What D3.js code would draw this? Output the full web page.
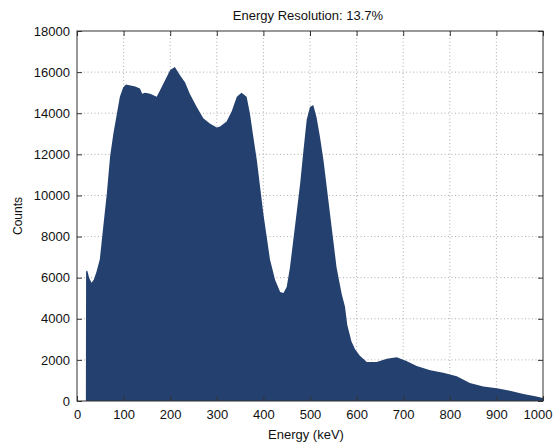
<!DOCTYPE html>
<html>
<head>
<meta charset="utf-8">
<script src="https://cdn.jsdelivr.net/npm/d3@7"></script>
<style>
  body { margin: 0; background: #fff; }
  svg text { font-family: "Liberation Sans", Arial, sans-serif; fill: #111; }
</style>
</head>
<body>
<div id="chart"></div>
<script>
// spectrum: energy (keV) and counts
const energy = [0, 19, 19.5, 22, 26, 31, 36, 42, 49, 56, 64, 71, 78, 85, 92, 99, 105, 115, 125, 135, 140, 146, 157, 171, 178, 189, 200, 210, 221, 232, 242, 257, 271, 285, 300, 307, 321, 332, 343, 353, 364, 371, 378, 386, 393, 400, 407, 414, 425, 436, 443, 450, 457, 464, 471, 479, 486, 493, 500, 507, 514, 521, 529, 536, 543, 550, 557, 568, 575, 580, 589, 597, 607, 622, 643, 665, 686, 707, 729, 758, 786, 815, 843, 872, 901, 929, 958, 986, 1000];
const counts = [0, 0, 6300, 6350, 6000, 5750, 5900, 6300, 6900, 8400, 10100, 11900, 13000, 13900, 14800, 15250, 15400, 15350, 15300, 15200, 14950, 15000, 14950, 14800, 15100, 15600, 16100, 16250, 15850, 15500, 14950, 14300, 13750, 13500, 13300, 13350, 13600, 14100, 14800, 15000, 14800, 14000, 12900, 11700, 10400, 9100, 8000, 6900, 5900, 5300, 5250, 5550, 6500, 7800, 9100, 10600, 12200, 13700, 14300, 14400, 13800, 12900, 11700, 10400, 9100, 7800, 6500, 5200, 4600, 3700, 2900, 2500, 2200, 1900, 1900, 2050, 2130, 1950, 1700, 1500, 1380, 1200, 870, 700, 620, 500, 340, 220, 150];

const xTicks = [0, 100, 200, 300, 400, 500, 600, 700, 800, 900, 1000];
const yTicks = [0, 2000, 4000, 6000, 8000, 10000, 12000, 14000, 16000, 18000];

const titleText = "Energy Resolution: 13.7%";
const xLabel = "Energy (keV)";
const yLabel = "Counts";

const W = 553, H = 448;
const margin = { top: 31, right: 10, bottom: 47, left: 77 };
const innerW = W - margin.left - margin.right;
const innerH = H - margin.top - margin.bottom;

const svg = d3.select("#chart").append("svg")
    .attr("width", W)
    .attr("height", H);

const g = svg.append("g")
    .attr("transform", `translate(${margin.left},${margin.top})`);

const x = d3.scaleLinear().domain([0, 1000]).range([0, innerW]);
const y = d3.scaleLinear().domain([0, 18000]).range([innerH, 0]);

const data = energy.map((e, i) => ({ e: e, c: counts[i] }));

// dotted grid (behind the fill)
g.append("g")
    .selectAll("line")
    .data(xTicks.slice(1, -1))
    .join("line")
    .attr("x1", d => x(d)).attr("x2", d => x(d))
    .attr("y1", 0).attr("y2", innerH)
    .attr("stroke", "#999")
    .attr("stroke-width", 0.8)
    .attr("stroke-dasharray", "1,2.5");

g.append("g")
    .selectAll("line")
    .data(yTicks.slice(1, -1))
    .join("line")
    .attr("y1", d => y(d)).attr("y2", d => y(d))
    .attr("x1", 0).attr("x2", innerW)
    .attr("stroke", "#999")
    .attr("stroke-width", 0.8)
    .attr("stroke-dasharray", "1,2.5");

// the spectrum
const area = d3.area()
    .x(d => x(d.e))
    .y0(y(0))
    .y1(d => y(d.c))
    .curve(d3.curveLinear);

g.append("path")
    .datum(data)
    .attr("d", area)
    .attr("fill", "#23406f");

// axes, ticks inward like a matlab box
const fmt = d3.format("d");
const xAxis = d3.axisBottom(x).tickValues(xTicks).tickFormat(fmt).tickSize(-5).tickPadding(9);
const yAxis = d3.axisLeft(y).tickValues(yTicks).tickFormat(fmt).tickSize(-5).tickPadding(7);

g.append("g")
    .attr("transform", `translate(0,${innerH})`)
    .call(xAxis)
    .call(a => a.select(".domain").remove())
    .call(a => a.selectAll("text").attr("font-size", 13).style("font-family", null))
    .call(a => a.selectAll("text").filter(d => d === 1000).attr("text-anchor", "end").attr("x", 9));

g.append("g")
    .call(yAxis)
    .call(a => a.select(".domain").remove())
    .call(a => a.selectAll("text").attr("font-size", 13).style("font-family", null));

g.append("g")
    .call(d3.axisTop(x).tickValues(xTicks).tickSize(-5).tickFormat(""))
    .call(a => a.select(".domain").remove());

g.append("g")
    .attr("transform", `translate(${innerW},0)`)
    .call(d3.axisRight(y).tickValues(yTicks).tickSize(-5).tickFormat(""))
    .call(a => a.select(".domain").remove());

g.selectAll(".tick line").attr("stroke", "#333");

g.append("rect")
    .attr("width", innerW)
    .attr("height", innerH)
    .attr("fill", "none")
    .attr("stroke", "#333")
    .attr("stroke-width", 1);

// labels
svg.append("text")
    .attr("x", margin.left + innerW / 2 - 2)
    .attr("y", 20)
    .attr("text-anchor", "middle")
    .attr("font-size", 13)
    .text(titleText);

svg.append("text")
    .attr("x", margin.left + innerW / 2 - 4)
    .attr("y", 439)
    .attr("text-anchor", "middle")
    .attr("font-size", 13)
    .text(xLabel);

svg.append("text")
    .attr("transform", `translate(22,${margin.top + innerH / 2}) rotate(-90)`)
    .attr("text-anchor", "middle")
    .attr("font-size", 12)
    .text(yLabel);
</script>
</body>
</html>
